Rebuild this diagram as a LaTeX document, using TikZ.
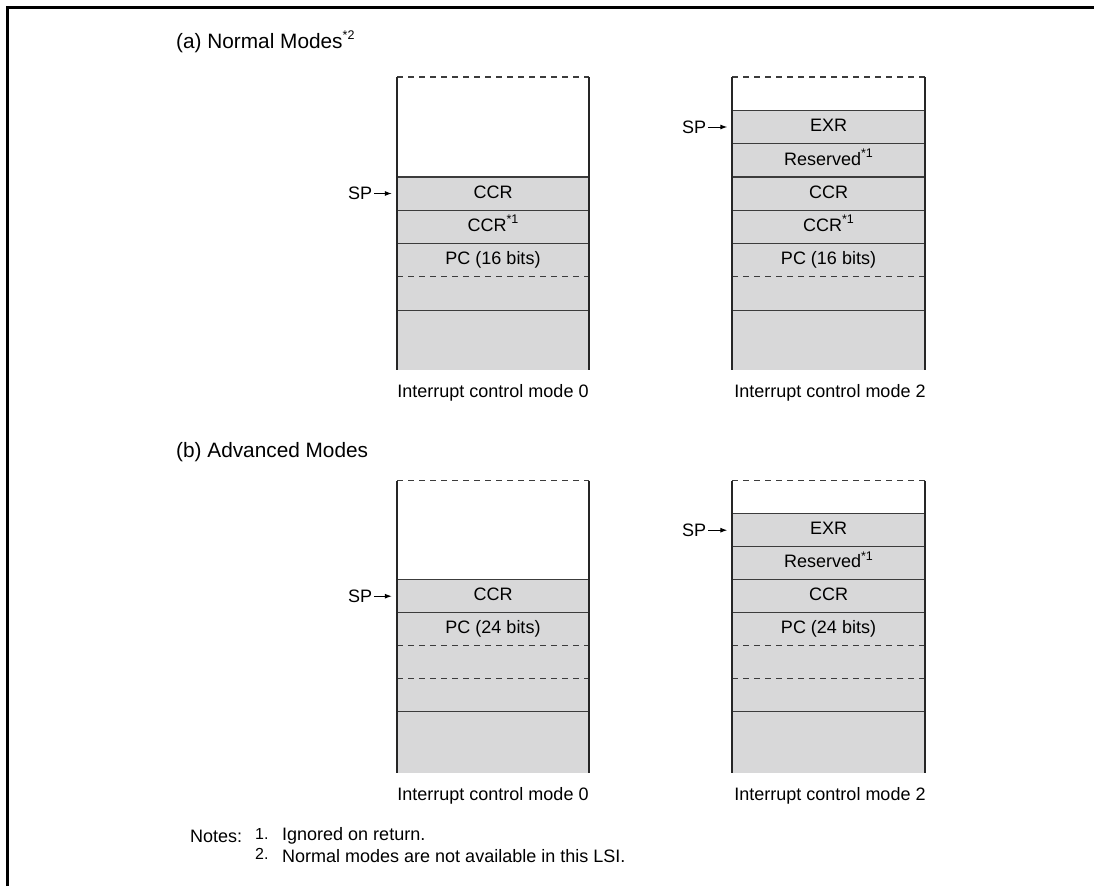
\documentclass[tikz,border=0pt]{standalone}
\usepackage{fontspec}
\setmainfont{Liberation Sans}
\usetikzlibrary{arrows.meta}
\definecolor{cellgray}{RGB}{216,216,217}
\definecolor{linegray}{RGB}{60,60,60}
\newcommand\supnote[1]{\raisebox{0.42em}{\fontsize{12.5}{12.5}\selectfont #1}}
\tikzset{
  wall/.style={line width=2.6pt, draw=black!85},
  sepline/.style={line width=1.2pt, draw=linegray},
  dsepline/.style={line width=1.2pt, draw=linegray, dash pattern=on 6pt off 5pt},
  cell/.style={minimum width=192pt, minimum height=33.3pt, inner sep=0pt,
    text height=12.9pt, text depth=3.5pt, font=\fontsize{18}{21}\selectfont},
  lbl/.style={inner sep=0pt, font=\fontsize{18}{21}\selectfont},
  ttl/.style={inner sep=0pt, font=\fontsize{20.8}{24}\selectfont},
  sparrow/.style={-{Latex[length=7pt,width=5pt]}, line width=1pt, shorten >=5pt, shorten <=2pt},
  frameline/.style={line width=3pt, draw=black}
}
\begin{document}
\begin{tikzpicture}[x=1pt,y=-1pt]
\useasboundingbox (0,0) rectangle (1094,886);
\draw[frameline] (7,886) -- (7,7) -- (1094,7);

% titles
\node[ttl, anchor=west] (titleA) at (176,42) {(a) Normal Modes\supnote{*2}};
\node[ttl, anchor=west] (titleB) at (176,452) {(b) Advanced Modes};

% ---------- (a) left: mode 0 ----------
\fill[cellgray] (397,176.9) rectangle (589,370);
\draw[dsepline] (397,77) -- (589,77);
\draw[sepline] (397,176.9) -- (589,176.9);
\draw[sepline] (397,210.2) -- (589,210.2);
\draw[sepline] (397,243.5) -- (589,243.5);
\draw[dsepline] (397,276.8) -- (589,276.8);
\draw[sepline] (397,310.1) -- (589,310.1);
\draw[wall] (397,77) -- (397,370);
\draw[wall] (589,77) -- (589,370);
\node[cell] (aLccr) at (493,193.5) {CCR};
\node[cell] (aLccrb) at (493,226.8) {CCR\supnote{*1}};
\node[cell] (aLpc) at (493,260.1) {PC (16 bits)};
\node[lbl, anchor=west] (aLsp) at (348,193.5) {SP};
\draw[sparrow] (aLsp.east) -- (aLccr.west);
\node[lbl] (aLcap) at (493,393) {Interrupt control mode 0};

% ---------- (a) right: mode 2 ----------
\fill[cellgray] (732,110.3) rectangle (925,370);
\draw[dsepline] (732,77) -- (925,77);
\draw[sepline] (732,110.3) -- (925,110.3);
\draw[sepline] (732,143.6) -- (925,143.6);
\draw[sepline] (732,176.9) -- (925,176.9);
\draw[sepline] (732,210.2) -- (925,210.2);
\draw[sepline] (732,243.5) -- (925,243.5);
\draw[dsepline] (732,276.8) -- (925,276.8);
\draw[sepline] (732,310.1) -- (925,310.1);
\draw[wall] (732,77) -- (732,370);
\draw[wall] (925,77) -- (925,370);
\node[cell] (aRexr) at (828.5,127) {EXR};
\node[cell] (aRres) at (828.5,160.3) {Reserved\supnote{*1}};
\node[cell] (aRccr) at (828.5,193.5) {CCR};
\node[cell] (aRccrb) at (828.5,226.8) {CCR\supnote{*1}};
\node[cell] (aRpc) at (828.5,260.1) {PC (16 bits)};
\node[lbl, anchor=west] (aRsp) at (682,127) {SP};
\draw[sparrow] (aRsp.east) -- (aRexr.west);
\node[lbl] (aRcap) at (830,393) {Interrupt control mode 2};

% ---------- (b) left: mode 0 ----------
\fill[cellgray] (397,579.7) rectangle (589,773);
\draw[dsepline] (397,480.7) -- (589,480.7);
\draw[sepline] (397,579.7) -- (589,579.7);
\draw[sepline] (397,612.7) -- (589,612.7);
\draw[dsepline] (397,645.7) -- (589,645.7);
\draw[dsepline] (397,678.7) -- (589,678.7);
\draw[sepline] (397,711.7) -- (589,711.7);
\draw[wall] (397,480.7) -- (397,773);
\draw[wall] (589,480.7) -- (589,773);
\node[cell] (bLccr) at (493,596.2) {CCR};
\node[cell] (bLpc) at (493,629.2) {PC (24 bits)};
\node[lbl, anchor=west] (bLsp) at (348,596.2) {SP};
\draw[sparrow] (bLsp.east) -- (bLccr.west);
\node[lbl] (bLcap) at (493,796) {Interrupt control mode 0};

% ---------- (b) right: mode 2 ----------
\fill[cellgray] (732,513.7) rectangle (925,773);
\draw[dsepline] (732,480.7) -- (925,480.7);
\draw[sepline] (732,513.7) -- (925,513.7);
\draw[sepline] (732,546.7) -- (925,546.7);
\draw[sepline] (732,579.7) -- (925,579.7);
\draw[sepline] (732,612.7) -- (925,612.7);
\draw[dsepline] (732,645.7) -- (925,645.7);
\draw[dsepline] (732,678.7) -- (925,678.7);
\draw[sepline] (732,711.7) -- (925,711.7);
\draw[wall] (732,480.7) -- (732,773);
\draw[wall] (925,480.7) -- (925,773);
\node[cell] (bRexr) at (828.5,530.2) {EXR};
\node[cell] (bRres) at (828.5,563.2) {Reserved\supnote{*1}};
\node[cell] (bRccr) at (828.5,596.2) {CCR};
\node[cell] (bRpc) at (828.5,629.2) {PC (24 bits)};
\node[lbl, anchor=west] (bRsp) at (682,530.2) {SP};
\draw[sparrow] (bRsp.east) -- (bRexr.west);
\node[lbl] (bRcap) at (830,796) {Interrupt control mode 2};

% ---------- notes ----------
\node[lbl, anchor=west] (notes) at (190,836) {Notes:};
\node[lbl, anchor=west, font=\fontsize{16}{19}\selectfont] (n1) at (255,834) {1.};
\node[lbl, anchor=west] (n1t) at (282,836) {Ignored on return.};
\node[lbl, anchor=west, font=\fontsize{16}{19}\selectfont] (n2) at (255,854) {2.};
\node[lbl, anchor=west] (n2t) at (282,856) {Normal modes are not available in this LSI.};
\end{tikzpicture}
\end{document}
